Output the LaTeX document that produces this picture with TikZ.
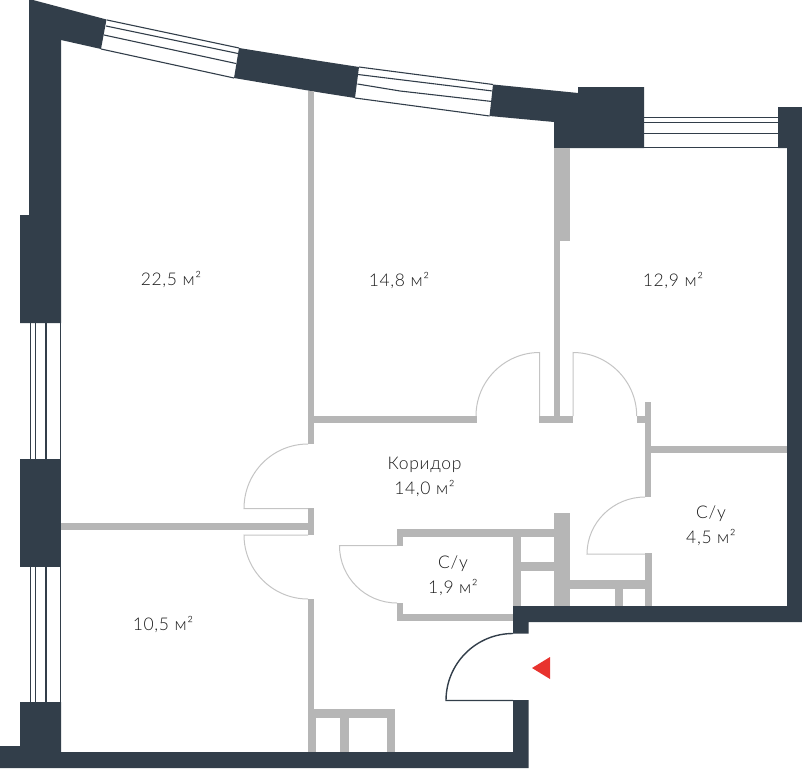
\documentclass[tikz,border=0pt]{standalone}
\usepackage{fontspec}
\setmainfont{Lato}[UprightFont=* Light,LetterSpace=4]
\definecolor{walldark}{HTML}{323E4A}
\definecolor{wallgray}{HTML}{B6B6B6}
\definecolor{doorgray}{HTML}{C4C4C4}
\definecolor{entryred}{HTML}{E8332E}
\definecolor{labelink}{HTML}{1A1A1A}
\tikzset{
  wall/.style={fill=walldark},
  partition/.style={fill=wallgray},
  glazing/.style={draw=walldark,line width=1.1pt},
  doorline/.style={draw=doorgray,line width=1pt},
  entrydoor/.style={draw=walldark,line width=1.4pt},
  label/.style={font=\fontsize{17.5}{25}\selectfont,text=labelink,align=center,inner sep=0pt}
}
\begin{document}
\begin{tikzpicture}[x=1pt,y=-1pt]
\useasboundingbox (0,0) rectangle (802,768);
% glazing: top windows
\draw[glazing] (107,20) -- (239,48);
\draw[glazing] (106,26) -- (238,53.5);
\draw[glazing] (104,35) -- (236,63.5);
\draw[glazing] (101,49) -- (234,78);
\draw[glazing] (359,67) -- (493,84.5);
\draw[glazing] (358,74.5) -- (492.5,91);
\draw[glazing] (357.5,84) -- (400,91) -- (492,101.5);
\draw[glazing] (355,98) -- (489.5,116);
\draw[glazing] (644,117.3) -- (778,117.3);
\draw[glazing] (644,122.3) -- (778,122.3);
\draw[glazing] (644,133.7) -- (778,133.7);
\draw[glazing] (644,147.4) -- (787,147.4);
% glazing: left windows
\foreach \gx in {30.7,35.6,46,60.2}{
  \draw[glazing] (\gx,323) -- (\gx,459);
  \draw[glazing] (\gx,567) -- (\gx,702);
}
% dark walls
\fill[wall] (29,0) -- (33,0) -- (106.5,19.5) -- (101,49) -- (61,40) -- (61,323) -- (20,323) -- (20,215) -- (29,215) -- cycle;
\fill[wall] (20,459) rectangle (60.5,567);
\fill[wall] (20,702) -- (61,702) -- (61,752) -- (513,752) -- (513,700) -- (528.5,700) -- (528.5,768) -- (0,768) -- (0,746) -- (20,746) -- cycle;
\fill[wall] (239,48) -- (320,61) -- (359,67) -- (355,98) -- (320,92.5) -- (234,78) -- cycle;
\fill[wall] (493,84.5) -- (578,93) -- (578,87) -- (644,87) -- (644,148) -- (554,148) -- (554,122) -- (489.5,116) -- cycle;
\fill[wall] (778,107) -- (802,107) -- (802,622) -- (528.5,622) -- (528.5,633.5) -- (513,633.5) -- (513,606) -- (787,606) -- (787,148) -- (778,148) -- cycle;
% gray partitions
\fill[partition] (308,91) rectangle (314.3,444);
\fill[partition] (314,415.7) rectangle (476.5,422.7);
\fill[partition] (539.3,415.7) rectangle (573.3,422.7);
\fill[partition] (554,148) rectangle (569.7,241);
\fill[partition] (554,241) rectangle (560,416);
\fill[partition] (636.7,415.7) rectangle (651,422.7);
\fill[partition] (644.8,402) rectangle (651,496.8);
\fill[partition] (651,446) rectangle (787,452.5);
\fill[partition] (60.5,523.3) rectangle (308,530);
\fill[partition] (308,508) rectangle (314.3,535.3);
\fill[partition] (308,599) rectangle (314.3,752);
\fill[partition] (308,709.3) rectangle (395,718);
\fill[partition] (308,718) rectangle (316,752);
\fill[partition] (340,718) rectangle (349,752);
\fill[partition] (387,718) rectangle (395,752);
\fill[partition] (553.7,512.7) rectangle (569.7,606);
\fill[partition] (569.7,580) rectangle (645,589);
\fill[partition] (615,589) rectangle (623,606);
\fill[partition] (645,553.3) rectangle (651.5,606);
\fill[partition] (397,529.3) rectangle (554,537);
\fill[partition] (397,529.3) rectangle (403,545.7);
\fill[partition] (397,603) rectangle (403,620.5);
\fill[partition] (397,614) rectangle (513,620.5);
\fill[partition] (512.7,529.3) rectangle (521,606);
\fill[partition] (521,562.3) rectangle (554,570.7);
% doors
\draw[doorline] (539.5,416) -- (539.5,352.5) .. controls (504.5,352.5) and (476,381) .. (476,416);
\draw[doorline] (573,416) -- (573,352.5) .. controls (608,352.5) and (636.7,381) .. (636.7,416);
\draw[doorline] (308,444) .. controls (272.7,444) and (244,472.6) .. (244,508.5) -- (308,508.5);
\draw[doorline] (308,535) -- (244,535) .. controls (244,570.3) and (272.7,599) .. (308,599);
\draw[doorline] (645,497) .. controls (613.2,497) and (587,522.6) .. (587,554) -- (645,554);
\draw[doorline] (397,545.7) -- (339.5,545.7) .. controls (339.5,577.4) and (365.3,603) .. (397,603);
\draw[entrydoor] (513,633.5) .. controls (476,633.5) and (446,663.5) .. (446,700.5) -- (513,700.5);
% entrance mark
\fill[entryred] (532,668) -- (550,657) -- (550,679) -- cycle;
% labels
\node[label] (roomA) at (171,280) {22,5 м²};
\node[label] (roomB) at (399,281) {14,8 м²};
\node[label] (roomC) at (673,281) {12,9 м²};
\node[label] (hall) at (424.5,476.5) {Коридор\\14,0 м²};
\node[label] (bathA) at (711,525.5) {С/у\\4,5 м²};
\node[label] (bathB) at (453,575.5) {С/у\\1,9 м²};
\node[label] (roomD) at (163,624) {10,5 м²};
\end{tikzpicture}
\end{document}
